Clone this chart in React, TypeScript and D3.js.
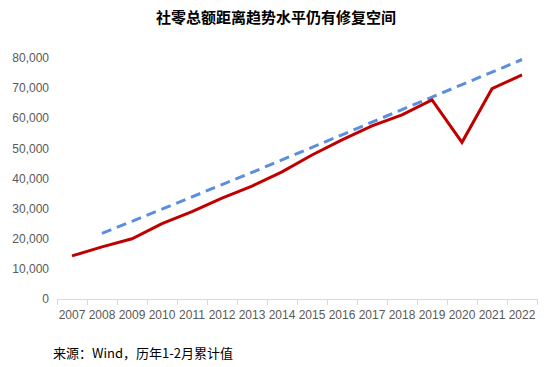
import { useEffect, useRef } from "react";
import * as d3 from "d3";

const years = ["2007","2008","2009","2010","2011","2012","2013","2014","2015","2016","2017","2018","2019","2020","2021","2022"];
// 社零1-2月累计值 (亿元)
const actual = [14300, 17300, 20000, 25000, 29000, 33500, 37500, 42200, 47800, 52800, 57500, 61100, 66100, 52000, 69800, 74400];
// trend line, starts in 2008
const trend = [null, 21800, 25800, 29800, 33900, 38000, 42000, 46200, 50300, 54500, 58700, 62900, 67000, 71200, 75300, 79500];
const yTicks = [0, 10000, 20000, 30000, 40000, 50000, 60000, 70000, 80000];

export default function App() {
    const svgRef = useRef<SVGSVGElement>(null);

    useEffect(() => {
        if (!svgRef.current) return;
        const width = 552;
        const height = 367;
        const left = 57, right = 537, top = 58, bottom = 299;

        const svg = d3.select(svgRef.current);
        svg.selectAll("*").remove();
        svg.attr("width", width).attr("height", height);

        svg.append("rect").attr("width", width).attr("height", height).attr("fill", "#fff");

        const x = d3.scaleBand<string>().domain(years).range([left, right]);
        const y = d3.scaleLinear().domain([0, 80000]).range([bottom, top]);
        const cx = (i: number) => (x(years[i]) as number) + x.bandwidth() / 2;

        // title
        svg.append("text")
            .attr("x", 276)
            .attr("y", 23)
            .attr("text-anchor", "middle")
            .style("font-family", "'Noto Sans CJK SC', sans-serif")
            .style("font-weight", "bold")
            .style("font-size", "15px")
            .style("fill", "#000")
            .text("社零总额距离趋势水平仍有修复空间");

        // y axis labels
        svg.selectAll(".ylab")
            .data(yTicks)
            .enter()
            .append("text")
            .attr("x", 49)
            .attr("y", (d) => y(d))
            .attr("dy", "0.35em")
            .attr("text-anchor", "end")
            .style("font-family", "Arial, 'Liberation Sans', sans-serif")
            .style("font-size", "12px")
            .style("fill", "#595959")
            .text((d) => d3.format(",")(d));

        // x axis line and ticks
        svg.append("line")
            .attr("x1", left).attr("x2", right)
            .attr("y1", bottom + 0.5).attr("y2", bottom + 0.5)
            .style("stroke", "#d9d9d9");
        const boundaries = years.map((yr) => x(yr) as number).concat([right]);
        svg.selectAll(".xtick")
            .data(boundaries)
            .enter()
            .append("line")
            .attr("x1", (d) => Math.round(d) + 0.5)
            .attr("x2", (d) => Math.round(d) + 0.5)
            .attr("y1", bottom)
            .attr("y2", bottom + 6)
            .style("stroke", "#d9d9d9");

        svg.selectAll(".xlab")
            .data(years)
            .enter()
            .append("text")
            .attr("x", (d, i) => cx(i))
            .attr("y", 319)
            .attr("text-anchor", "middle")
            .style("font-family", "Arial, 'Liberation Sans', sans-serif")
            .style("font-size", "12px")
            .style("fill", "#595959")
            .text((d) => d);

        // trend (dashed)
        const trendLine = d3.line<number | null>()
            .defined((d) => d !== null)
            .x((d, i) => cx(i))
            .y((d) => y(d as number));
        svg.append("path")
            .datum(trend)
            .attr("d", trendLine)
            .style("fill", "none")
            .style("stroke", "#5B8EDC")
            .style("stroke-width", 3)
            .style("stroke-dasharray", "10,6");

        // actual
        const actLine = d3.line<number>()
            .x((d, i) => cx(i))
            .y((d) => y(d));
        svg.append("path")
            .datum(actual)
            .attr("d", actLine)
            .style("fill", "none")
            .style("stroke", "#C00000")
            .style("stroke-width", 3)
            .style("stroke-linejoin", "miter");

        // source note
        svg.append("text")
            .attr("x", 53)
            .attr("y", 358)
            .style("font-family", "'Noto Sans CJK SC', sans-serif")
            .style("font-size", "13px")
            .style("fill", "#000")
            .text("来源：Wind，历年1-2月累计值");
    }, []);

    return (
        <div style={{ position: "absolute", left: 0, top: 0 }}>
            <svg ref={svgRef}></svg>
        </div>
    );
}
